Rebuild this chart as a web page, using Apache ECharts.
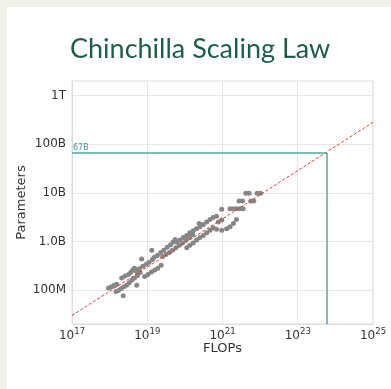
<!DOCTYPE html>
<html>
<head>
<meta charset="utf-8">
<script src="https://cdn.jsdelivr.net/npm/echarts@6/dist/echarts.min.js"></script>
<style>
  html, body { margin: 0; padding: 0; width: 391px; height: 389px; overflow: hidden; background: #f1f0e9; }
  #card { position: absolute; left: 7px; top: 7px; right: 0; bottom: 0; background: #ffffff; }
  #chart { position: absolute; left: 0; top: 0; width: 391px; height: 389px; }
</style>
</head>
<body>
<div id="card"></div>
<div id="chart"></div>
<script>
// Training runs: compute budget (log10 FLOPs) and model size (log10 parameters)
const flopsLog10 = [
  17.97, 18.05, 18.12, 18.19,
  18.17, 18.24, 18.31, 18.38, 18.45, 18.52, 18.59, 18.66, 18.74, 18.81,
  18.36,
  18.32, 18.41, 18.50, 18.56, 18.61, 18.66,
  18.72, 18.85,
  18.70, 18.79, 18.88, 18.97, 19.05, 19.14,
  18.93, 19.02, 19.11, 19.20, 19.28, 19.37,
  19.12,
  19.18, 19.27, 19.36, 19.44, 19.53, 19.62, 19.69, 19.74,
  19.41, 19.50, 19.59, 19.67, 19.76, 19.85, 19.94, 20.03, 20.12, 20.21,
  20.05, 20.13, 20.22, 20.31, 20.40, 20.49, 20.58, 20.67, 20.75,
  19.78, 19.87, 19.96, 20.05, 20.13, 20.22, 20.31, 20.40, 20.49, 20.58, 20.67, 20.75, 20.84,
  20.38,
  20.84, 20.98, 21.11, 21.20, 21.29, 21.37,
  20.89, 20.98,
  20.98,
  21.20, 21.29, 21.37, 21.46, 21.55,
  21.44, 21.53, 21.75, 21.83,
  21.62, 21.71, 21.92, 22.01
];
const paramsLog10 = [
  8.04, 8.07, 8.10, 8.12,
  7.97, 7.99, 8.03, 8.07, 8.10, 8.15, 8.20, 8.25, 8.30, 8.36,
  7.88,
  8.25, 8.29, 8.32, 8.36, 8.41, 8.45,
  8.10, 8.64,
  8.39, 8.44, 8.49, 8.53, 8.57, 8.63,
  8.28, 8.32, 8.37, 8.41, 8.45, 8.51,
  8.82,
  8.67, 8.71, 8.77, 8.82, 8.88, 8.93, 8.99, 9.04,
  8.69, 8.73, 8.77, 8.82, 8.87, 8.92, 8.97, 9.03, 9.08, 9.14,
  8.87, 8.92, 8.97, 9.03, 9.08, 9.12, 9.18, 9.23, 9.28,
  8.99, 9.03, 9.08, 9.12, 9.18, 9.22, 9.26, 9.30, 9.35, 9.40, 9.45, 9.49, 9.52,
  9.37,
  9.25, 9.23, 9.26, 9.30, 9.37, 9.45,
  9.40, 9.44,
  9.66,
  9.67, 9.67, 9.67, 9.67, 9.67,
  9.83, 9.83, 9.83, 9.83,
  9.99, 9.99, 9.99, 9.99
];

// Power-law fit N_opt ∝ C^0.5, drawn across the full FLOPs range
const fitFlops = [1e17, 1e25];
const fitParams = [3.0e7, 2.83e11];

// Chinchilla compute budget and its optimal model size
const chinchillaFlops = 5.9e23;
const chinchillaParams = 6.7e10;

const xTicks = [1e17, 1e19, 1e21, 1e23, 1e25];
const yTicks = [1e8, 1e9, 1e10, 1e11, 1e12];
const yTickLabels = ['100M', '1.0B', '10B', '100B', '1T'];

const yMin = 2e7, yMax = 2e12;

const runs = flopsLog10.map((c, i) => [Math.pow(10, c), Math.pow(10, paramsLog10[i])]);
const fit = fitFlops.map((c, i) => [c, fitParams[i]]);

const FONT = 'DejaVu Sans';
const chart = echarts.init(document.getElementById('chart'), null, { renderer: 'canvas' });

chart.setOption({
  backgroundColor: 'transparent',
  animation: false,
  title: {
    text: 'Chinchilla Scaling Law',
    left: 70,
    top: 36,
    padding: 0,
    textStyle: { fontFamily: 'Lato', fontWeight: 'normal', fontSize: 27, color: '#1d5e46' }
  },
  grid: {
    left: 72, right: 18, top: 81, bottom: 65,
    show: true, borderColor: '#dcdcdc', borderWidth: 1
  },
  xAxis: {
    type: 'log',
    min: 1e17, max: 1e25,
    name: 'FLOPs',
    nameLocation: 'middle',
    nameGap: 18,
    nameMoveOverlap: false,
    nameTextStyle: { fontFamily: FONT, fontSize: 13, color: '#333', verticalAlign: 'top' },
    axisLine: { show: true, lineStyle: { color: '#dcdcdc' } },
    axisTick: { show: false, customValues: xTicks },
    splitLine: { show: true, lineStyle: { color: '#e6e6e6' } },
    axisLabel: {
      customValues: xTicks,
      margin: 3,
      formatter: v => '{b|10}{s|' + Math.round(Math.log10(v)) + '}',
      rich: {
        b: { fontFamily: FONT, fontSize: 12, color: '#333', verticalAlign: 'bottom', padding: [3, 0, 0, 0] },
        s: { fontFamily: FONT, fontSize: 8.5, color: '#333', verticalAlign: 'top' }
      }
    }
  },
  yAxis: {
    type: 'log',
    min: yMin, max: yMax,
    name: 'Parameters',
    nameLocation: 'middle',
    nameGap: 44,
    nameMoveOverlap: false,
    nameTextStyle: { fontFamily: FONT, fontSize: 13, color: '#333' },
    axisLine: { show: true, lineStyle: { color: '#dcdcdc' } },
    axisTick: { show: false, customValues: yTicks },
    splitLine: { show: true, lineStyle: { color: '#e6e6e6' } },
    axisLabel: {
      customValues: yTicks,
      margin: 6,
      fontFamily: FONT, fontSize: 12, color: '#333',
      formatter: v => {
        const i = yTicks.findIndex(t => Math.abs(Math.log10(t) - Math.log10(v)) < 1e-6);
        return i >= 0 ? yTickLabels[i] : '';
      }
    }
  },
  series: [
    {
      name: 'runs',
      type: 'scatter',
      data: runs,
      symbolSize: 5,
      itemStyle: { color: '#868686', opacity: 1 },
      z: 3
    },
    {
      name: 'fit',
      type: 'line',
      data: fit,
      symbol: 'none',
      lineStyle: { color: '#e8352f', width: 1, type: [3, 2] },
      z: 4
    },
    {
      name: 'chinchilla',
      type: 'line',
      data: [],
      markLine: {
        silent: true,
        symbol: 'none',
        lineStyle: { color: '#4fa7a0', width: 1.5, type: 'solid' },
        data: [
          [
            { coord: [1e17, chinchillaParams], label: {
                show: true, position: 'insideStartTop', distance: [1, 1],
                formatter: '67B', fontFamily: FONT, fontSize: 8, color: '#3a9a92'
              } },
            { coord: [chinchillaFlops, chinchillaParams] }
          ],
          [
            { coord: [chinchillaFlops, chinchillaParams], label: { show: false } },
            { coord: [chinchillaFlops, yMin] }
          ]
        ]
      },
      z: 5
    }
  ]
});
</script>
</body>
</html>
